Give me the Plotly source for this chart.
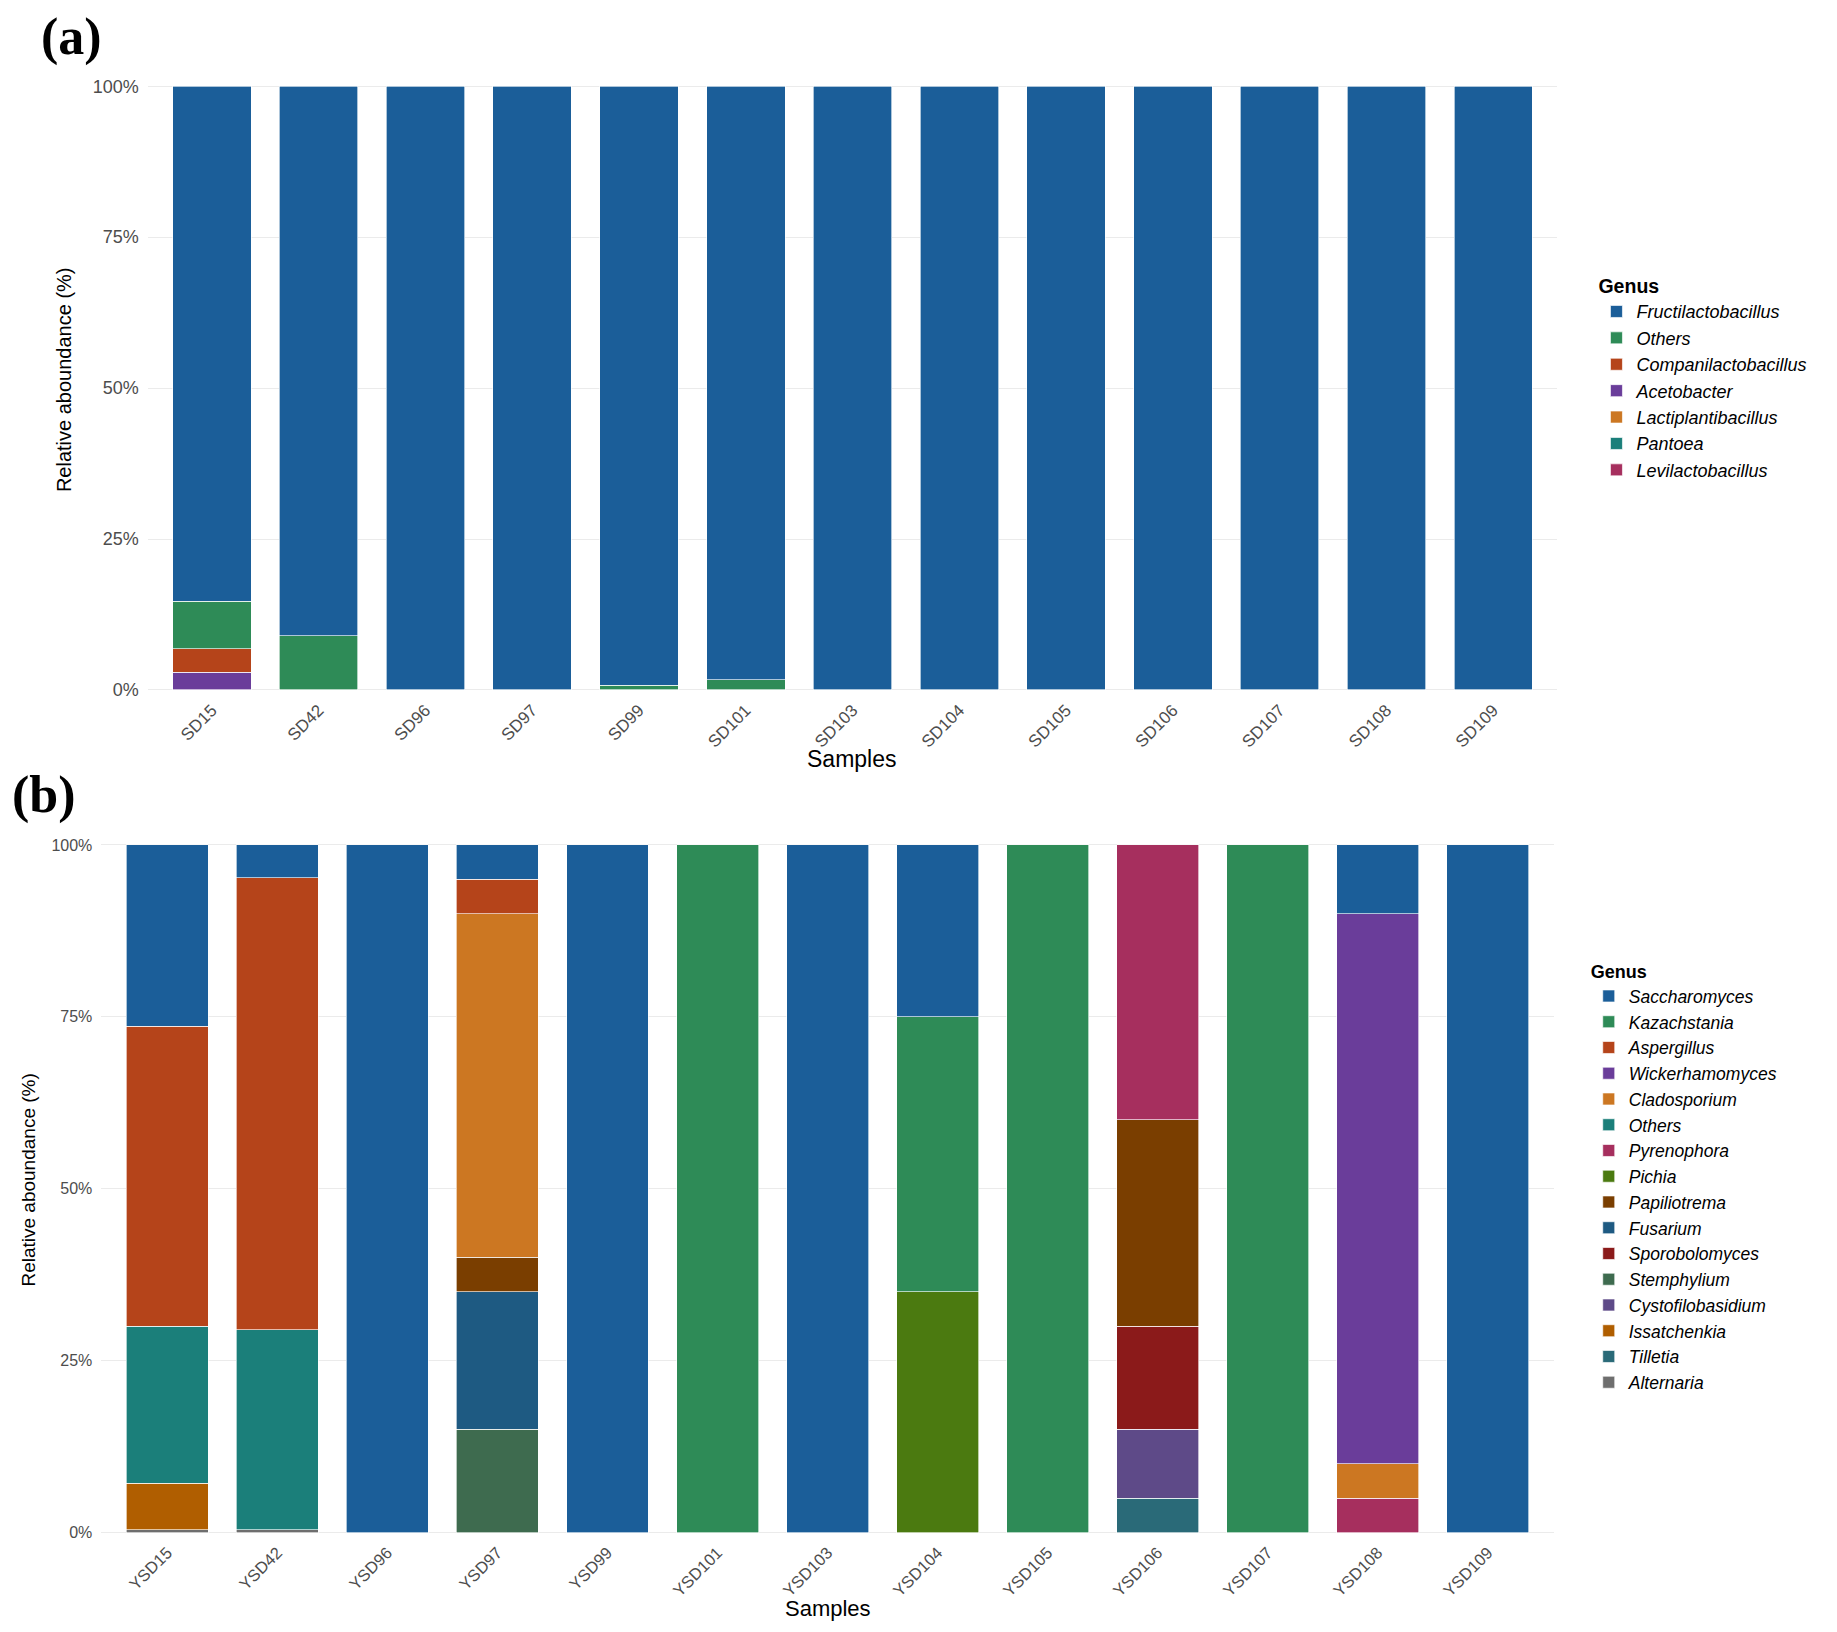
import plotly.graph_objects as go

# ---- panel (a): bacteria ----
samples_a = ["SD15", "SD42", "SD96", "SD97", "SD99", "SD101", "SD103",
             "SD104", "SD105", "SD106", "SD107", "SD108", "SD109"]
genus_a = ["Fructilactobacillus", "Others", "Companilactobacillus", "Acetobacter",
           "Lactiplantibacillus", "Pantoea", "Levilactobacillus"]
colors_a = ["#1B5E99", "#2E8B57", "#B5441A", "#6A3D9A", "#CC7722", "#1B7F7A", "#A62F5E"]

fructilactobacillus = [85.3, 91.0, 100, 100, 99.2, 98.3, 100, 100, 100, 100, 100, 100, 100]
others_a = [7.9, 9.0, 0, 0, 0.8, 1.7, 0, 0, 0, 0, 0, 0, 0]
companilactobacillus = [3.9, 0, 0, 0, 0, 0, 0, 0, 0, 0, 0, 0, 0]
acetobacter = [2.9, 0, 0, 0, 0, 0, 0, 0, 0, 0, 0, 0, 0]
lactiplantibacillus = [0] * 13
pantoea = [0] * 13
levilactobacillus = [0] * 13
values_a = [fructilactobacillus, others_a, companilactobacillus, acetobacter,
            lactiplantibacillus, pantoea, levilactobacillus]

# ---- panel (b): fungi ----
samples_b = ["YSD15", "YSD42", "YSD96", "YSD97", "YSD99", "YSD101", "YSD103",
             "YSD104", "YSD105", "YSD106", "YSD107", "YSD108", "YSD109"]
genus_b = ["Saccharomyces", "Kazachstania", "Aspergillus", "Wickerhamomyces",
           "Cladosporium", "Others", "Pyrenophora", "Pichia", "Papiliotrema",
           "Fusarium", "Sporobolomyces", "Stemphylium", "Cystofilobasidium",
           "Issatchenkia", "Tilletia", "Alternaria"]
colors_b = ["#1B5E99", "#2E8B57", "#B5441A", "#6A3D9A", "#CC7722", "#1B7F7A",
            "#A62F5E", "#4B7A10", "#7A3E00", "#1E5A82", "#8B1A1A", "#3E6B4F",
            "#5E4A88", "#B05E00", "#2A6A78", "#6E6E6E"]

saccharomyces = [26.4, 4.8, 100, 5, 100, 0, 100, 25, 0, 0, 0, 10, 100]
kazachstania = [0, 0, 0, 0, 0, 100, 0, 40, 100, 0, 100, 0, 0]
aspergillus = [43.6, 65.7, 0, 5, 0, 0, 0, 0, 0, 0, 0, 0, 0]
wickerhamomyces = [0, 0, 0, 0, 0, 0, 0, 0, 0, 0, 0, 80, 0]
cladosporium = [0, 0, 0, 50, 0, 0, 0, 0, 0, 0, 0, 5, 0]
others_b = [22.8, 29.1, 0, 0, 0, 0, 0, 0, 0, 0, 0, 0, 0]
pyrenophora = [0, 0, 0, 0, 0, 0, 0, 0, 0, 40, 0, 5, 0]
pichia = [0, 0, 0, 0, 0, 0, 0, 35, 0, 0, 0, 0, 0]
papiliotrema = [0, 0, 0, 5, 0, 0, 0, 0, 0, 30, 0, 0, 0]
fusarium = [0, 0, 0, 20, 0, 0, 0, 0, 0, 0, 0, 0, 0]
sporobolomyces = [0, 0, 0, 0, 0, 0, 0, 0, 0, 15, 0, 0, 0]
stemphylium = [0, 0, 0, 15, 0, 0, 0, 0, 0, 0, 0, 0, 0]
cystofilobasidium = [0, 0, 0, 0, 0, 0, 0, 0, 0, 10, 0, 0, 0]
issatchenkia = [6.8, 0, 0, 0, 0, 0, 0, 0, 0, 0, 0, 0, 0]
tilletia = [0, 0, 0, 0, 0, 0, 0, 0, 0, 5, 0, 0, 0]
alternaria = [0.4, 0.4, 0, 0, 0, 0, 0, 0, 0, 0, 0, 0, 0]
values_b = [saccharomyces, kazachstania, aspergillus, wickerhamomyces, cladosporium,
            others_b, pyrenophora, pichia, papiliotrema, fusarium, sporobolomyces,
            stemphylium, cystofilobasidium, issatchenkia, tilletia, alternaria]

W, H = 1837, 1632
SANS = "Liberation Sans"
TICK_COLOR = "#4D4D4D"
GRID = "#EBEBEB"

fig = go.Figure()


def add_panel(samples, genus, colors, values, xref, yref, legend, width):
    # ggplot stacks the first legend level on top, so add from the last one up
    for name, col, vals in reversed(list(zip(genus, colors, values))):
        fig.add_trace(go.Bar(
            x=samples,
            y=[v / 100 if v > 0 else None for v in vals],
            name=name,
            marker=dict(color=col, line=dict(color="rgba(255,255,255,0.8)", width=0.8)),
            width=width,
            xaxis=xref,
            yaxis=yref,
            legend=legend,
            hovertemplate="%{x}<br>" + name + ": %{y:.1%}<extra></extra>",
        ))


add_panel(samples_a, genus_a, colors_a, values_a, "x", "y", "legend", 0.735)
add_panel(samples_b, genus_b, colors_b, values_b, "x2", "y2", "legend2", 0.745)

xcommon = dict(type="category", range=[-0.6, 12.6], showgrid=False, zeroline=False,
               showline=False, ticks="", tickangle=-45, ticklabelstandoff=5)
ycommon = dict(range=[-0.002, 1.004], tickvals=[0, 0.25, 0.5, 0.75, 1], tickformat=".0%",
               showgrid=True, gridcolor=GRID, gridwidth=1, zeroline=False, showline=False,
               ticks="", ticklabelstandoff=8)

legend_common = dict(bgcolor="rgba(0,0,0,0)", traceorder="reversed", xanchor="left",
                     yanchor="top", itemclick=False, itemdoubleclick=False)

fig.update_layout(
    width=W, height=H,
    margin=dict(l=0, r=0, t=0, b=0),
    paper_bgcolor="white", plot_bgcolor="white",
    barmode="stack",
    font=dict(family=SANS, color="black"),
    xaxis=dict(xcommon, domain=[0.0761, 0.8434], anchor="y",
               tickfont=dict(family=SANS, size=17, color=TICK_COLOR)),
    yaxis=dict(ycommon, domain=[0.5816, 0.9574], anchor="x",
               tickfont=dict(family=SANS, size=18, color=TICK_COLOR)),
    xaxis2=dict(xcommon, domain=[0.0508, 0.8415], anchor="y2",
                tickfont=dict(family=SANS, size=16.5, color=TICK_COLOR)),
    yaxis2=dict(ycommon, domain=[0.0601, 0.4881], anchor="x2",
                tickfont=dict(family=SANS, size=16, color=TICK_COLOR)),
    legend=dict(legend_common, x=0.8647, y=0.8435,
                title=dict(text="<b>Genus</b>",
                           font=dict(family=SANS, size=19.5, style="normal")),
                font=dict(family=SANS, size=18, style="italic")),
    legend2=dict(legend_common, x=0.8605, y=0.4185,
                 title=dict(text="<b>Genus</b>",
                            font=dict(family=SANS, size=18, style="normal")),
                 font=dict(family=SANS, size=17.5, style="italic")),
)

notes = [
    dict(text="(a)", x=31 / W, y=1.0, yshift=9, xanchor="left", yanchor="top",
         font=dict(family="Liberation Serif", size=52, color="black", weight="bold")),
    dict(text="(b)", x=2 / W, y=0.5172, xanchor="left", yanchor="middle",
         font=dict(family="Liberation Serif", size=52, color="black", weight="bold")),
    dict(text="Relative aboundance (%)", x=0.0304, y=0.7746, textangle=-90,
         xanchor="center", yanchor="middle", font=dict(family=SANS, size=20)),
    dict(text="Relative aboundance (%)", x=0.0113, y=0.2792, textangle=-90,
         xanchor="center", yanchor="middle", font=dict(family=SANS, size=19)),
    dict(text="Samples", x=0.4593, y=0.5395, xanchor="center", yanchor="middle",
         font=dict(family=SANS, size=23)),
    dict(text="Samples", x=0.4463, y=0.0138, xanchor="center", yanchor="middle",
         font=dict(family=SANS, size=22)),
]
for n in notes:
    fig.add_annotation(xref="paper", yref="paper", showarrow=False, **n)

fig.write_html("out.html")
